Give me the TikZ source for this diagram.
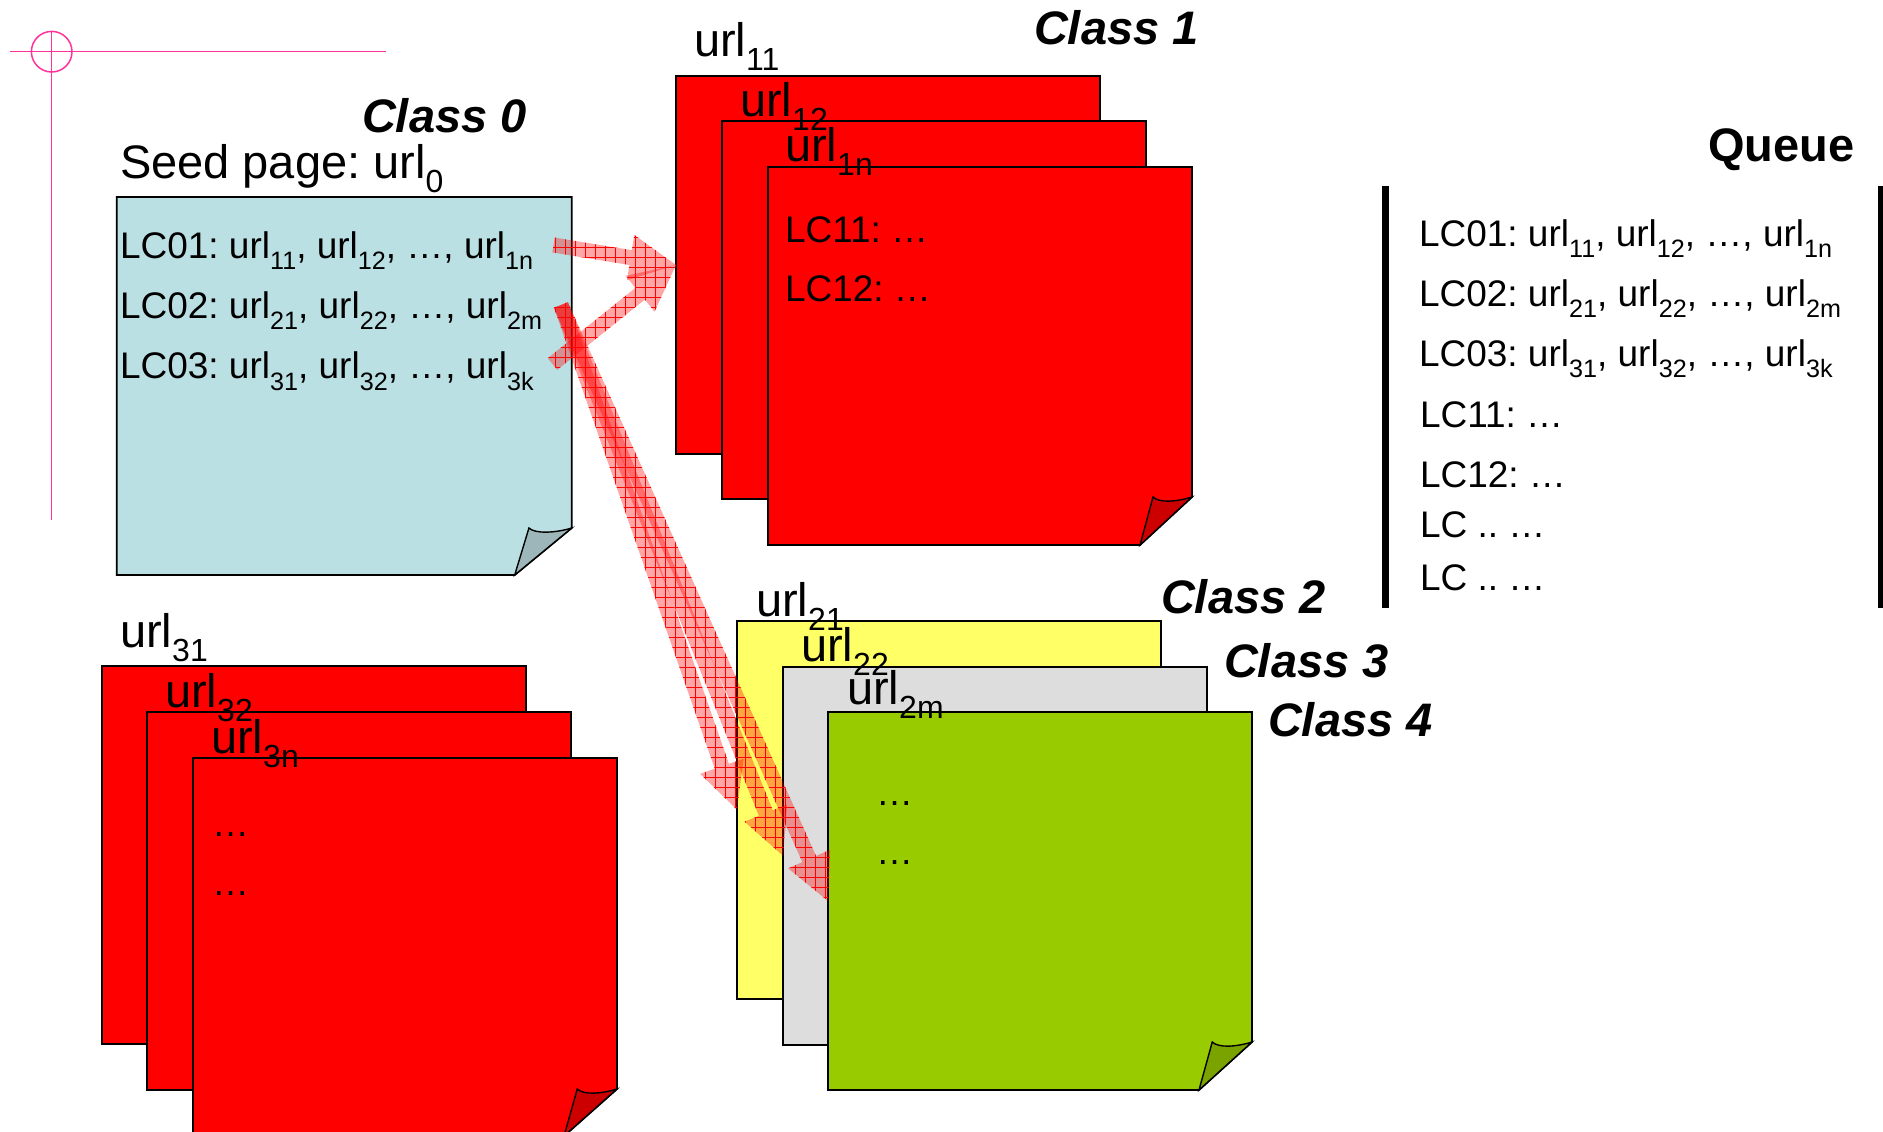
\documentclass[tikz,border=0pt]{standalone}
\usepackage{fontspec}
\setmainfont{Liberation Sans}
\usepackage{graphicx}
\usetikzlibrary{calc,patterns}
\frenchspacing

\definecolor{seedblue}{HTML}{BBE0E3}
\definecolor{seedfold}{HTML}{9CB6B9}
\definecolor{pagered}{HTML}{FF0000}
\definecolor{redfold}{HTML}{CC0000}
\definecolor{pageyellow}{HTML}{FFFF66}
\definecolor{pagegray}{HTML}{DDDDDD}
\definecolor{pagegreen}{HTML}{99CC00}
\definecolor{greenfold}{HTML}{7AA300}
\definecolor{markpink}{HTML}{FF3399}

% font sizes (1pt = 1 unit of the picture)
\newcommand\lcfont{\fontsize{37}{44}\selectfont}
\newcommand\urlfont{\fontsize{47}{56}\selectfont}
\newcommand\classfont{\fontsize{47}{56}\selectfont\bfseries\itshape}
\newcommand\queuefont{\fontsize{47}{56}\selectfont\bfseries}

% lowered, reduced index after "url"
\newcommand\sbx[1]{\raisebox{-0.3em}{\scalebox{0.68}{#1}}}

% coarse square grid used on the block arrows
\pgfdeclarepatternformonly{arrowgrid}{\pgfpoint{-0.5pt}{-0.5pt}}{\pgfpoint{10.5pt}{10.5pt}}{\pgfpoint{10pt}{10pt}}{%
  \pgfsetlinewidth{0.8pt}%
  \pgfpathmoveto{\pgfpoint{0pt}{5pt}}\pgfpathlineto{\pgfpoint{10pt}{5pt}}%
  \pgfpathmoveto{\pgfpoint{5pt}{0pt}}\pgfpathlineto{\pgfpoint{5pt}{10pt}}%
  \pgfusepath{stroke}}

\tikzset{
  txt/.style={anchor=base west, inner sep=0pt, outer sep=0pt},
  lc/.style={txt, font=\lcfont},
  urllab/.style={txt, font=\urlfont},
  classlab/.style={txt, font=\classfont},
  pagebox/.style={draw=black, line width=1.8pt, inner sep=0pt, outer sep=0pt,
    minimum width=424pt, minimum height=378pt, anchor=north west},
  pageline/.style={draw=black, line width=1.8pt, line join=miter},
  flapline/.style={draw=black, line width=1.4pt},
  pinkline/.style={draw=markpink, line width=1.5pt},
  qbar/.style={draw=black, line width=7pt},
  arrowbase/.style={fill=red, fill opacity=0.35},
  arrowhatch/.style={pattern=arrowgrid, pattern color=red, fill opacity=0.4},
}

% page with a curled lower right corner: node name, fill, flap fill, dx, dy
\newcommand\foldpage[5]{%
  \path[fill=#2, pageline] (#1.north west) -- (#1.north east)
    -- ($(#1.south east)+(0,-#5)$) -- ($(#1.south east)+(-#4,0)$)
    -- (#1.south west) -- cycle;
  \path[fill=#3, flapline] ($(#1.south east)+(-#4,0)$)
    -- ($(#1.south east)+(-0.75*#4,-#5)$)
    .. controls +(6,6) and +(-16,5) .. ($(#1.south east)+(0,-#5)$) -- cycle;
}

% translucent hatched block arrow from #1 to #2
\newcommand\blockarrow[2]{%
  \coordinate (ah) at ($(#2)!46pt!(#1)$);
  \def\bapath{($(#1)!7.5pt!90:(#2)$) -- ($(ah)!7.5pt!90:(#2)$)
    -- ($(ah)!23pt!90:(#2)$) -- (#2) -- ($(ah)!23pt!-90:(#2)$)
    -- ($(ah)!7.5pt!-90:(#2)$) -- ($(#1)!7.5pt!-90:(#2)$) -- cycle}%
  \path[arrowbase] \bapath;
  \path[arrowhatch] \bapath;
}

\begin{document}
\begin{tikzpicture}[x=1pt, y=-1pt]
\useasboundingbox[fill=white] (0,0) rectangle (1883,1132);

% registration mark
\draw[pinkline] (9.6,51.6) -- (385.5,51.6);
\draw[pinkline] (51.7,30.6) -- (51.7,520);
\draw[pinkline] (51.7,51.7) circle[radius=20.3pt];

% seed page (class 0)
\node[pagebox, draw=none, minimum width=455pt] (seed) at (116.7,197) {};
\foldpage{seed}{seedblue}{seedfold}{57}{47}

% class 1 pages
\node[pagebox, fill=pagered] (c1a) at (676,76) {};
\node[pagebox, fill=pagered] (c1b) at (722,121) {};
\node[pagebox, draw=none] (c1c) at (768,167) {};
\foldpage{c1c}{pagered}{redfold}{52}{48}

% class 2, 3, 4 pages
\node[pagebox, fill=pageyellow] (c2) at (737,620.7) {};
\node[pagebox, fill=pagegray] (c3) at (783,666.7) {};
\node[pagebox, draw=none] (c4) at (828,712) {};
\foldpage{c4}{pagegreen}{greenfold}{53}{48}

% pages reached from LC03
\node[pagebox, fill=pagered] (r3a) at (101.7,666.2) {};
\node[pagebox, fill=pagered] (r3b) at (147.3,712) {};
\node[pagebox, draw=none] (r3c) at (193,758) {};
\foldpage{r3c}{pagered}{redfold}{53}{47}

% titles
\node[classlab] (k0) at (362,132) {Class 0};
\node[urllab] (seedlab) at (120,178) {Seed page: url\sbx{0}};
\node[classlab] (k1) at (1034,45) {Class 1};
\node[classlab] (k2) at (1161,613) {Class 2};
\node[classlab] (k3) at (1224,677) {Class 3};
\node[classlab] (k4) at (1268,736) {Class 4};
\node[txt, font=\queuefont] (qt) at (1708,161.7) {Queue};

% link lists of the seed page
\node[lc] (lc01) at (120,258.3) {LC01: url\sbx{11}, url\sbx{12}, …, url\sbx{1n}};
\node[lc] (lc02) at (120,318.8) {LC02: url\sbx{21}, url\sbx{22}, …, url\sbx{2m}};
\node[lc] (lc03) at (120,378.9) {LC03: url\sbx{31}, url\sbx{32}, …, url\sbx{3k}};

% class 1 labels
\node[urllab] (u11) at (694,56.7) {url\sbx{11}};
\node[urllab] (u12) at (740,116.7) {url\sbx{12}};
\node[urllab] (u1n) at (785,161.7) {url\sbx{1n}};
\node[lc] (lc11) at (785,242.3) {LC11: …};
\node[lc] (lc12) at (785,301.7) {LC12: …};

% class 2-4 labels
\node[urllab] (u21) at (756,616) {url\sbx{21}};
\node[urllab] (u22) at (801,661) {url\sbx{22}};
\node[urllab] (u2m) at (847,704.8) {url\sbx{2m}};
\node[lc] (d41) at (876,805) {…};
\node[lc] (d42) at (876,864) {…};

% LC03 pages labels
\node[urllab] (u31) at (120,647.4) {url\sbx{31}};
\node[urllab] (u32) at (165,707.7) {url\sbx{32}};
\node[urllab] (u3n) at (211,753.8) {url\sbx{3n}};
\node[lc] (d31) at (212,836) {…};
\node[lc] (d32) at (212,895) {…};

% queue
\draw[qbar] (1385,186) -- (1385,608);
\draw[qbar] (1881,186) -- (1881,608);
\node[lc] (q1) at (1419,246.7) {LC01: url\sbx{11}, url\sbx{12}, …, url\sbx{1n}};
\node[lc] (q2) at (1419,306.7) {LC02: url\sbx{21}, url\sbx{22}, …, url\sbx{2m}};
\node[lc] (q3) at (1419,366.7) {LC03: url\sbx{31}, url\sbx{32}, …, url\sbx{3k}};
\node[lc] (q4) at (1420,427.3) {LC11: …};
\node[lc] (q5) at (1420,487.3) {LC12: …};
\node[lc] (q6) at (1420,537.3) {LC .. …};
\node[lc] (q7) at (1420,590.7) {LC .. …};

% arrows from the link lists to the pages
\coordinate (s1) at (553.5,245);
\coordinate (s2) at (552.5,364);
\coordinate (s3) at (561,305);
\blockarrow{s1}{c1a.west}
\blockarrow{s2}{c1a.west}
\blockarrow{s3}{c2.west}
\blockarrow{s3}{c3.west}
\blockarrow{s3}{c4.west}
\end{tikzpicture}
\end{document}
